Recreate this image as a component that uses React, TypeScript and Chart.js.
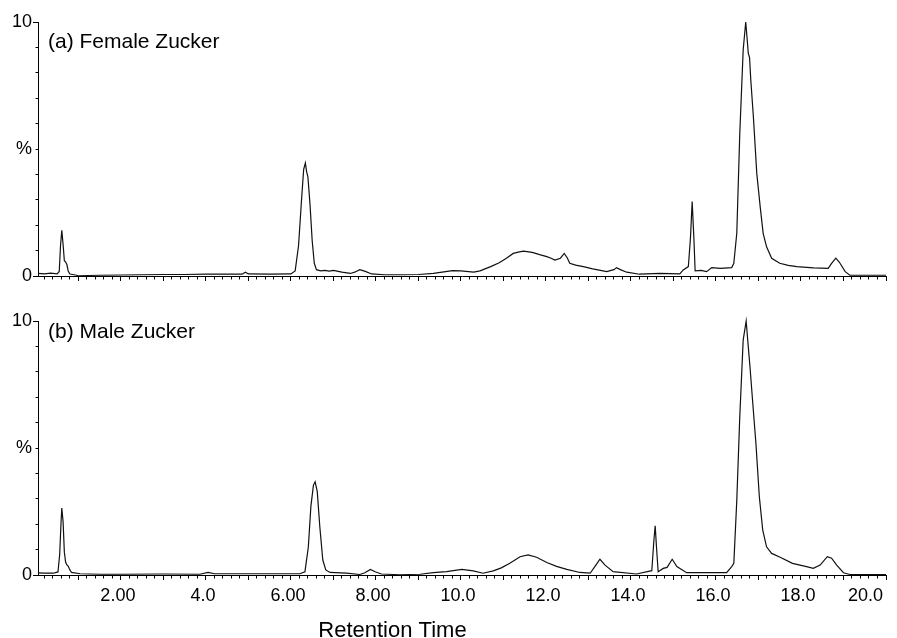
import React, { useEffect, useRef } from 'react';
import { Chart, registerables } from 'chart.js';

Chart.register(...registerables);

const FONT = '"Liberation Sans", Arial, Helvetica, sans-serif';

// Female Zucker trace: retention time (min) and relative intensity (%)
const femaleTime = [
  0.05, 0.2, 0.35, 0.5, 0.55, 0.58, 0.61, 0.64, 0.67, 0.7,
  0.73, 0.76, 0.8, 0.9, 1.0, 1.5, 2.0, 2.5, 3.0, 3.5,
  4.0, 4.5, 4.85, 4.93, 5.0, 5.5, 6.0, 6.1, 6.18, 6.25,
  6.3, 6.34, 6.37, 6.4, 6.45, 6.5, 6.55, 6.6, 6.7, 6.8,
  6.9, 7.0, 7.2, 7.4, 7.5, 7.62, 7.75, 7.9, 8.2, 8.6,
  9.0, 9.35, 9.6, 9.8, 10.0, 10.3, 10.45, 10.7, 10.9, 11.07,
  11.23, 11.35, 11.47, 11.6, 11.7, 11.85, 12.02, 12.12, 12.21, 12.34,
  12.43, 12.5, 12.56, 12.7, 12.88, 13.1, 13.43, 13.6, 13.66, 13.75,
  13.9, 14.2, 14.68, 15.15, 15.23, 15.35, 15.4, 15.44, 15.48, 15.51,
  15.65, 15.78, 15.9, 16.1, 16.37, 16.42, 16.49, 16.56, 16.64, 16.7,
  16.73, 16.76, 16.79, 16.82, 16.88, 16.96, 17.04, 17.11, 17.19, 17.31,
  17.5, 17.7, 17.9, 18.3, 18.64, 18.72, 18.82, 18.9, 19.04, 19.15,
  19.5, 20.0,
];
const femaleIntensity = [
  0.1, 0.08, 0.11, 0.08, 0.18, 1.2, 1.8, 1.25, 0.6, 0.55,
  0.45, 0.2, 0.08, 0.05, 0.01, 0.03, 0.04, 0.05, 0.06, 0.06,
  0.07, 0.07, 0.07, 0.15, 0.08, 0.07, 0.08, 0.2, 1.2, 3.0,
  4.2, 4.45, 4.1, 3.9, 2.8, 1.4, 0.5, 0.25, 0.2, 0.22,
  0.19, 0.22, 0.15, 0.1, 0.15, 0.25, 0.18, 0.08, 0.05, 0.05,
  0.06, 0.1, 0.16, 0.21, 0.2, 0.15, 0.2, 0.37, 0.52, 0.7,
  0.89, 0.94, 0.98, 0.95, 0.92, 0.84, 0.76, 0.7, 0.63, 0.7,
  0.89, 0.72, 0.5, 0.43, 0.37, 0.28, 0.17, 0.25, 0.33, 0.25,
  0.15, 0.07, 0.1, 0.08, 0.24, 0.37, 1.5, 2.93, 1.5, 0.2,
  0.22, 0.17, 0.33, 0.3, 0.33, 0.5, 1.69, 5.6, 8.9, 10.0,
  9.4, 8.77, 8.6, 7.7, 6.27, 4.04, 2.73, 1.68, 1.15, 0.7,
  0.5, 0.42, 0.37, 0.32, 0.3, 0.5, 0.7, 0.55, 0.17, 0.03,
  0.03, 0.03,
];

// Male Zucker trace: retention time (min) and relative intensity (%)
const maleTime = [
  0.05, 0.2, 0.41, 0.52, 0.56, 0.59, 0.61, 0.64, 0.67, 0.7,
  0.73, 0.76, 0.8, 0.84, 1.04, 1.5, 2.0, 3.0, 3.86, 4.05,
  4.2, 5.0, 6.21, 6.33, 6.41, 6.47, 6.53, 6.57, 6.62, 6.68,
  6.75, 6.82, 6.92, 7.31, 7.62, 7.74, 7.87, 7.98, 8.13, 8.56,
  9.04, 9.35, 9.66, 10.02, 10.29, 10.52, 10.76, 10.95, 11.15, 11.39,
  11.58, 11.78, 12.02, 12.25, 12.49, 12.8, 13.04, 13.15, 13.27, 13.39,
  13.58, 14.13, 14.49, 14.54, 14.57, 14.6, 14.64, 14.76, 14.85, 14.97,
  15.08, 15.31, 16.25, 16.37, 16.42, 16.49, 16.56, 16.64, 16.71, 16.76,
  16.8, 16.86, 16.94, 17.02, 17.1, 17.19, 17.31, 17.51, 17.8, 18.13,
  18.29, 18.45, 18.62, 18.72, 18.84, 19.0, 19.15, 19.5, 20.0,
];
const maleIntensity = [
  0.08, 0.07, 0.07, 0.12, 0.8, 2.0, 2.64, 2.1, 0.9, 0.5,
  0.4, 0.35, 0.2, 0.1, 0.05, 0.03, 0.03, 0.04, 0.03, 0.1,
  0.05, 0.05, 0.05, 0.13, 1.1, 2.7, 3.54, 3.67, 3.28, 1.9,
  0.59, 0.2, 0.1, 0.07, 0.02, 0.09, 0.22, 0.13, 0.04, 0.01,
  0.03, 0.09, 0.13, 0.22, 0.16, 0.07, 0.16, 0.28, 0.46, 0.72,
  0.79, 0.7, 0.49, 0.34, 0.22, 0.1, 0.07, 0.33, 0.62, 0.39,
  0.13, 0.04, 0.17, 1.38, 1.94, 1.11, 0.13, 0.26, 0.3, 0.62,
  0.33, 0.09, 0.09, 0.33, 0.46, 2.95, 6.23, 9.25, 10.0, 8.99,
  8.2, 6.89, 5.18, 3.08, 1.77, 1.11, 0.85, 0.7, 0.46, 0.33,
  0.26, 0.39, 0.72, 0.66, 0.39, 0.09, 0.02, 0.02, 0.02,
];

// Axis tick labels
const xTickValues = [2, 4, 6, 8, 10, 12, 14, 16, 18, 20];
const xTickLabels = ['2.00', '4.0', '6.00', '8.00', '10.0', '12.0', '14.0', '16.0', '18.0', '20.0'];
const yTickValues = [0, 5, 10];
const yTickLabels = ['0', '%', '10'];

const panelTitles = ['(a) Female Zucker', '(b) Male Zucker'];
const axisTitle = 'Retention Time';

type PanelProps = {
  time: number[];
  intensity: number[];
  title: string;
  showLabels: boolean;
  width: number;
  height: number;
  top: number;
  padTop: number;
  xHeight: number;
  titleOffset: number;
};

function Panel(props: PanelProps) {
  const { time, intensity, title, showLabels, width, height, top, padTop, xHeight, titleOffset } = props;
  const ref = useRef<HTMLCanvasElement>(null);

  useEffect(() => {
    if (!ref.current) return;
    const isWhole = (v: number) => Math.abs(v - Math.round(v)) < 1e-6;

    // Panel caption and the shared axis caption
    const captions = {
      id: 'captions',
      afterDraw(chart: any) {
        const { ctx, chartArea } = chart;
        ctx.save();
        ctx.fillStyle = '#000';
        ctx.textBaseline = 'alphabetic';
        ctx.textAlign = 'left';
        ctx.font = `21px ${FONT}`;
        ctx.fillText(title, chartArea.left + 10, chartArea.top + titleOffset);
        if (showLabels) {
          ctx.textAlign = 'center';
          ctx.font = `22px ${FONT}`;
          ctx.fillText(
            axisTitle,
            chartArea.left + (chartArea.right - chartArea.left) * 0.418,
            chart.height - 1
          );
        }
        ctx.restore();
      },
    };

    const chart = new Chart(ref.current, {
      type: 'line',
      data: {
        datasets: [
          {
            data: time.map((t, i) => ({ x: t, y: intensity[i] })),
            borderColor: '#111',
            borderWidth: 1.2,
            pointRadius: 0,
            tension: 0,
            fill: false,
            clip: false as any,
          },
        ],
      },
      options: {
        animation: false,
        responsive: false,
        events: [],
        layout: { padding: { top: padTop, right: 11, left: 0, bottom: 0 } },
        plugins: { legend: { display: false }, tooltip: { enabled: false } },
        scales: {
          x: {
            type: 'linear',
            min: 0.05,
            max: 20,
            afterFit: (s: any) => {
              s.height = xHeight;
              s.paddingLeft = 0;
              s.paddingRight = 0;
            },
            border: { display: true, color: '#000', width: 1 },
            grid: {
              display: true,
              drawOnChartArea: false,
              drawTicks: true,
              tickLength: 5,
              tickColor: '#000',
              tickWidth: 1,
              // whole minutes get full-length ticks, fifths get short ones
              tickBorderDash: (ctx: any) =>
                ctx.tick && isWhole(ctx.tick.value) ? [] : [2.5, 20],
            } as any,
            ticks: {
              display: showLabels,
              stepSize: 0.2,
              includeBounds: false,
              autoSkip: false,
              maxRotation: 0,
              minRotation: 0,
              align: 'inner',
              padding: 5,
              labelOffset: -3,
              color: '#000',
              font: { family: FONT, size: 18 },
              callback: (v: any) => {
                const i = xTickValues.findIndex((t) => Math.abs(t - Number(v)) < 1e-6);
                return i >= 0 ? xTickLabels[i] : '';
              },
            },
          },
          y: {
            type: 'linear',
            min: 0,
            max: 10,
            afterFit: (s: any) => {
              s.width = 38;
              s.paddingTop = 0;
              s.paddingBottom = 0;
            },
            border: { display: true, color: '#000', width: 1 },
            grid: {
              display: true,
              drawOnChartArea: false,
              drawTicks: true,
              tickLength: 5,
              tickColor: '#000',
              tickWidth: 1,
              tickBorderDash: (ctx: any) =>
                ctx.tick && (ctx.tick.value === 0 || ctx.tick.value === 10) ? [] : [0, 2.5, 2.5, 20],
            } as any,
            ticks: {
              stepSize: 1,
              autoSkip: false,
              padding: 1,
              color: '#000',
              font: { family: FONT, size: 18 },
              callback: (v: any) => {
                const i = yTickValues.indexOf(Number(v));
                return i >= 0 ? yTickLabels[i] : '';
              },
            },
          },
        },
      },
      plugins: [captions],
    });

    return () => chart.destroy();
  }, []);

  return (
    <canvas
      ref={ref}
      width={width}
      height={height}
      style={{ position: 'absolute', left: 0, top, display: 'block' }}
    />
  );
}

export default function App() {
  return (
    <div
      style={{
        position: 'absolute',
        left: 0,
        top: 0,
        width: 897,
        height: 638,
        overflow: 'hidden',
        background: '#fff',
      }}
    >
      <Panel
        time={femaleTime}
        intensity={femaleIntensity}
        title={panelTitles[0]}
        showLabels={false}
        width={897}
        height={300}
        top={0}
        padTop={22}
        xHeight={24}
        titleOffset={25.5}
      />
      <Panel
        time={maleTime}
        intensity={maleIntensity}
        title={panelTitles[1]}
        showLabels={true}
        width={897}
        height={338}
        top={300}
        padTop={21}
        xHeight={63}
        titleOffset={16.5}
      />
    </div>
  );
}
